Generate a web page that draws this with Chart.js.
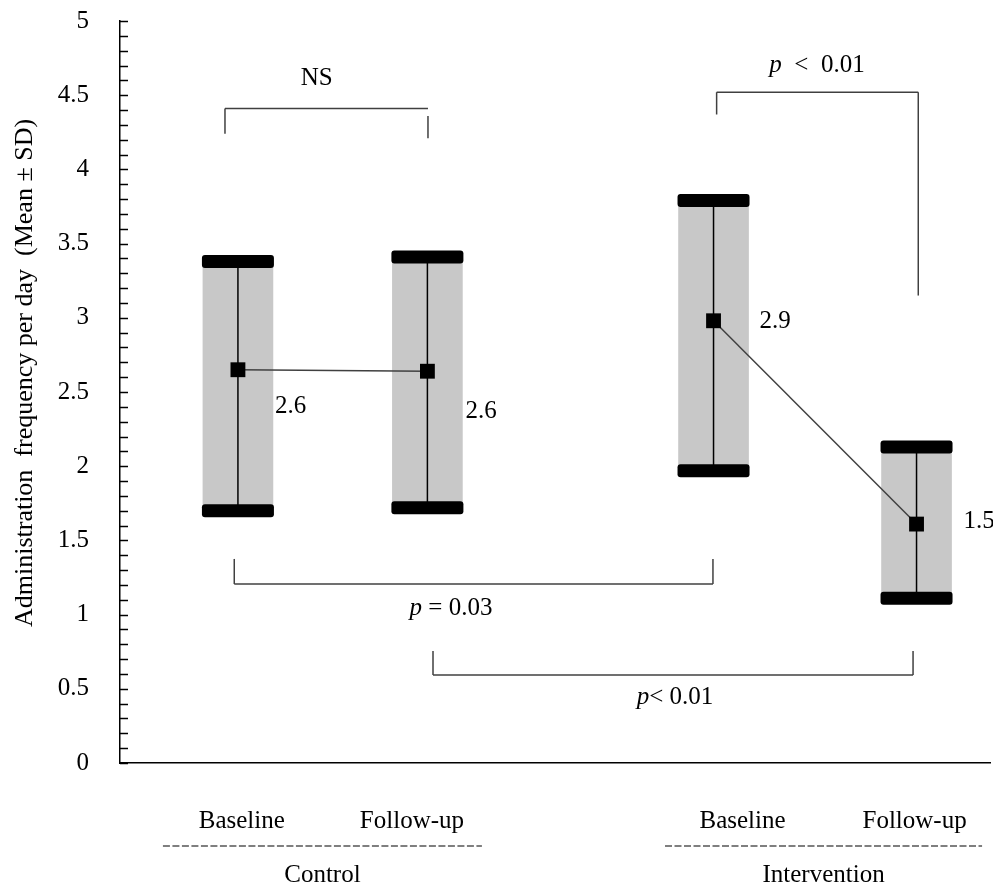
<!DOCTYPE html>
<html>
<head>
<meta charset="utf-8">
<script src="https://cdn.jsdelivr.net/npm/chart.js@4.4.1/dist/chart.umd.min.js"></script>
<style>
  html, body { margin: 0; padding: 0; background: #fff; }
  canvas { display: block; }
</style>
</head>
<body>
<canvas id="sdChart" width="993" height="886"></canvas>
<script>
// data
const timepoints = ["Baseline", "Follow-up", "Baseline", "Follow-up"];
const groupNames = ["Control", "Intervention"];
const xPos = [0.61, 1.59, 3.07, 4.12];
const means = [2.65, 2.64, 2.98, 1.61];
const sdLow = [1.70, 1.72, 1.97, 1.11];
const sdHigh = [3.38, 3.41, 3.79, 2.13];
const meanLabels = ["2.6", "2.6", "2.9", "1.5"];
const labelX = [0.63, 1.51, 3.22, 4.11];
const yMin = 0, yMax = 5, yStep = 0.5;

const FONT = "'Liberation Serif', 'Times New Roman', serif";

// significance brackets (x, y in axis units)
const brackets = [
  { x1: 0.543, x2: 1.593, y: 4.41, legs: [[4.41, 4.24], [4.36, 4.21]], text: [["NS", false]], tx: 1.017, ty: 4.61 },
  { x1: 3.086, x2: 4.129, y: 4.52, legs: [[4.52, 4.37], [4.52, 3.15]], text: [["p", true], ["  <  0.01", false]], tx: 3.605, ty: 4.70 },
  { x1: 0.591, x2: 3.067, y: 1.206, legs: [[1.206, 1.375], [1.206, 1.375]], text: [["p", true], [" = 0.03", false]], tx: 1.712, ty: 1.044 },
  { x1: 1.619, x2: 4.102, y: 0.593, legs: [[0.593, 0.755], [0.593, 0.755]], text: [["p", true], ["< 0.01", false]], tx: 2.871, ty: 0.445 }
];
const valueLabelOffset = [[37, 37], [38, 40], [46, 1], [47, -3]];
const groupSpans = [[0.222, 1.872], [2.819, 4.459]];

function drawRuns(ctx, runs, cx, cy) {
  let total = 0;
  runs.forEach(r => {
    ctx.font = (r[1] ? "italic " : "") + "25px " + FONT;
    total += ctx.measureText(r[0]).width;
  });
  let x = cx - total / 2;
  ctx.textAlign = "left";
  ctx.textBaseline = "middle";
  runs.forEach(r => {
    ctx.font = (r[1] ? "italic " : "") + "25px " + FONT;
    ctx.fillText(r[0], x, cy);
    x += ctx.measureText(r[0]).width;
  });
}

const extras = {
  id: "extras",
  afterDatasetDraw(chart, args) {
    if (args.index !== 0) return;
    const ctx = chart.ctx, xs = chart.scales.x, ys = chart.scales.y;
    ctx.save();
    ctx.strokeStyle = "#000";
    ctx.fillStyle = "#000";
    ctx.lineWidth = 1.5;
    xPos.forEach((v, i) => {
      const px = xs.getPixelForValue(v);
      ctx.beginPath();
      ctx.moveTo(px, ys.getPixelForValue(sdHigh[i]));
      ctx.lineTo(px, ys.getPixelForValue(sdLow[i]));
      ctx.stroke();
      [sdHigh[i], sdLow[i]].forEach(s => {
        ctx.beginPath();
        ctx.roundRect(px - 36, ys.getPixelForValue(s) - 6.5, 72, 13, 3);
        ctx.fill();
      });
    });
    ctx.restore();
  },
  afterDraw(chart) {
    const ctx = chart.ctx, xs = chart.scales.x, ys = chart.scales.y;
    const area = chart.chartArea;
    ctx.save();

    // inward ticks on the y axis, every 0.1
    ctx.strokeStyle = "#000";
    ctx.lineWidth = 1.5;
    for (let k = 0; k <= 50; k++) {
      const py = Math.round(ys.getPixelForValue(k / 10)) + 0.5;
      ctx.beginPath();
      ctx.moveTo(area.left, py);
      ctx.lineTo(area.left + 8, py);
      ctx.stroke();
    }

    // brackets
    ctx.strokeStyle = "#404040";
    ctx.lineWidth = 1.5;
    ctx.fillStyle = "#000";
    brackets.forEach(b => {
      const x1 = xs.getPixelForValue(b.x1), x2 = xs.getPixelForValue(b.x2);
      const py = ys.getPixelForValue(b.y);
      ctx.beginPath();
      ctx.moveTo(x1, py);
      ctx.lineTo(x2, py);
      ctx.stroke();
      [x1, x2].forEach((px, j) => {
        ctx.beginPath();
        ctx.moveTo(px, ys.getPixelForValue(b.legs[j][0]));
        ctx.lineTo(px, ys.getPixelForValue(b.legs[j][1]));
        ctx.stroke();
      });
      drawRuns(ctx, b.text, xs.getPixelForValue(b.tx), ys.getPixelForValue(b.ty));
    });

    // mean value labels
    ctx.font = "25px " + FONT;
    ctx.textAlign = "left";
    ctx.textBaseline = "middle";
    meanLabels.forEach((t, i) => {
      ctx.fillText(t, xs.getPixelForValue(xPos[i]) + valueLabelOffset[i][0],
        ys.getPixelForValue(means[i]) + valueLabelOffset[i][1]);
    });

    // group labels with dashed separators
    ctx.strokeStyle = "#000";
    ctx.lineWidth = 1.2;
    ctx.setLineDash([7, 2.5]);
    groupNames.forEach((g, i) => {
      const a = xs.getPixelForValue(groupSpans[i][0]);
      const b = xs.getPixelForValue(groupSpans[i][1]);
      const ly = area.bottom + 83;
      ctx.beginPath();
      ctx.moveTo(a, ly);
      ctx.lineTo(b, ly);
      ctx.stroke();
      ctx.textAlign = "center";
      ctx.fillText(g, (a + b) / 2, area.bottom + 112);
    });
    ctx.setLineDash([]);

    // y axis title
    ctx.translate(25, 373);
    ctx.rotate(-Math.PI / 2);
    ctx.font = "26px " + FONT;
    ctx.textAlign = "center";
    ctx.fillText("Administration  frequency per day  (Mean \u00b1 SD)", 0, 0);
    ctx.restore();
  }
};

const ctx = document.getElementById("sdChart").getContext("2d");

new Chart(ctx, {
  type: "scatter",
  data: {
    datasets: [
      {
        type: "bar",
        data: xPos.map((v, i) => ({ x: v, y: [sdLow[i], sdHigh[i]] })),
        backgroundColor: "#c8c8c8",
        borderWidth: 0,
        barThickness: 70,
        order: 3
      },
      {
        type: "line",
        data: [0, 1].map(i => ({ x: xPos[i], y: means[i] })),
        borderColor: "#404040",
        borderWidth: 1.5,
        pointStyle: "rect",
        pointRadius: 10.5,
        pointBackgroundColor: "#000",
        pointBorderColor: "#000",
        pointBorderWidth: 0,
        order: 1
      },
      {
        type: "line",
        data: [2, 3].map(i => ({ x: xPos[i], y: means[i] })),
        borderColor: "#404040",
        borderWidth: 1.5,
        pointStyle: "rect",
        pointRadius: 10.5,
        pointBackgroundColor: "#000",
        pointBorderColor: "#000",
        pointBorderWidth: 0,
        order: 2
      }
    ]
  },
  options: {
    responsive: false,
    animation: false,
    layout: { autoPadding: false, padding: { top: 21, right: 3, left: 0, bottom: 0 } },
    plugins: {
      legend: { display: false },
      tooltip: { enabled: false }
    },
    scales: {
      x: {
        type: "linear",
        min: 0,
        max: 4.5,
        offset: false,
        grid: { display: false },
        border: { display: true, color: "#000", width: 1.5 },
        afterBuildTicks: scale => { scale.ticks = labelX.map(v => ({ value: v })); },
        afterFit: scale => {
          scale.height = 123;
          scale.paddingLeft = 0;
          scale.paddingRight = 0;
        },
        ticks: {
          autoSkip: false,
          maxRotation: 0,
          padding: 35,
          color: "#000",
          font: { family: FONT, size: 25 },
          callback: (value, index) => timepoints[index]
        }
      },
      y: {
        min: yMin,
        max: yMax,
        grid: { display: false },
        border: { display: true, color: "#000", width: 1.5 },
        afterFit: scale => {
          scale.width = 120;
          scale.paddingTop = 0;
          scale.paddingBottom = 0;
        },
        ticks: {
          stepSize: yStep,
          padding: 23,
          color: "#000",
          font: { family: FONT, size: 25 },
          callback: value => String(value)
        }
      }
    }
  },
  plugins: [extras]
});
</script>
</body>
</html>
